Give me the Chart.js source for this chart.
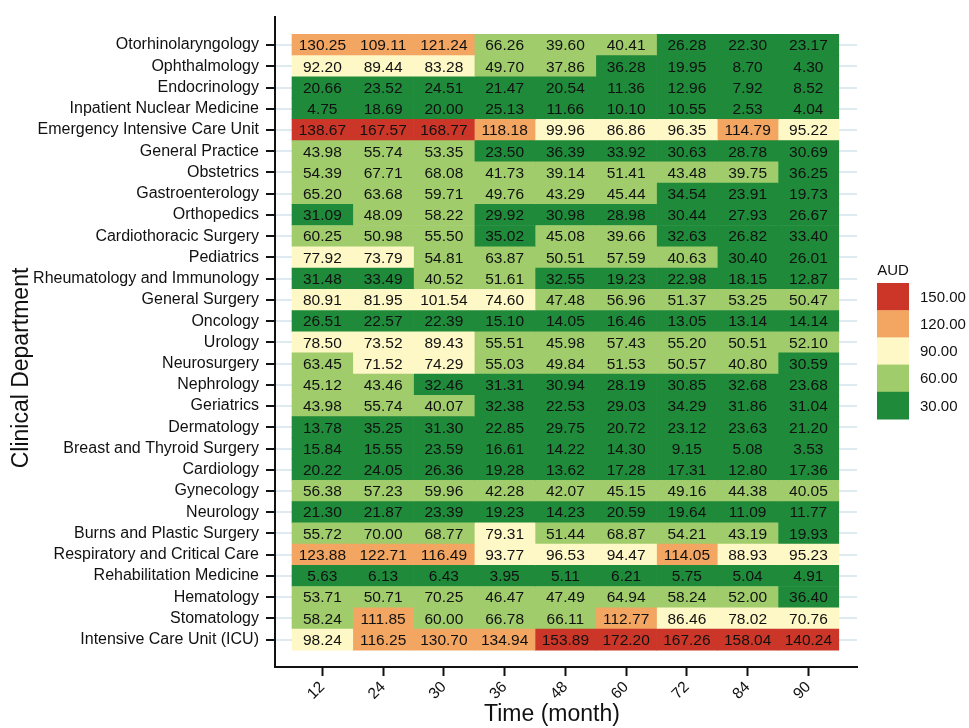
<!DOCTYPE html>
<html>
<head>
<meta charset="utf-8">
<script src="https://cdn.jsdelivr.net/npm/chart.js@4.4.1/dist/chart.umd.min.js"></script>
<style>
  html, body { margin: 0; padding: 0; background: #fff; }
  #wrap { width: 969px; height: 728px; }
</style>
</head>
<body>
<div id="wrap"><canvas id="myChart"></canvas></div>
<script>
const departments = [
  'Otorhinolaryngology', 'Ophthalmology', 'Endocrinology', 'Inpatient Nuclear Medicine',
  'Emergency Intensive Care Unit', 'General Practice', 'Obstetrics', 'Gastroenterology',
  'Orthopedics', 'Cardiothoracic Surgery', 'Pediatrics', 'Rheumatology and Immunology',
  'General Surgery', 'Oncology', 'Urology', 'Neurosurgery', 'Nephrology', 'Geriatrics',
  'Dermatology', 'Breast and Thyroid Surgery', 'Cardiology', 'Gynecology', 'Neurology',
  'Burns and Plastic Surgery', 'Respiratory and Critical Care', 'Rehabilitation Medicine',
  'Hematology', 'Stomatology', 'Intensive Care Unit (ICU)'
]
const months = ['12', '24', '30', '36', '48', '60', '72', '84', '90']

// one array per month, in department order
const m12 = [130.25, 92.20, 20.66, 4.75, 138.67, 43.98, 54.39, 65.20, 31.09, 60.25, 77.92, 31.48, 80.91, 26.51, 78.50, 63.45, 45.12, 43.98, 13.78, 15.84, 20.22, 56.38, 21.30, 55.72, 123.88, 5.63, 53.71, 58.24, 98.24]
const m24 = [109.11, 89.44, 23.52, 18.69, 167.57, 55.74, 67.71, 63.68, 48.09, 50.98, 73.79, 33.49, 81.95, 22.57, 73.52, 71.52, 43.46, 55.74, 35.25, 15.55, 24.05, 57.23, 21.87, 70.00, 122.71, 6.13, 50.71, 111.85, 116.25]
const m30 = [121.24, 83.28, 24.51, 20.00, 168.77, 53.35, 68.08, 59.71, 58.22, 55.50, 54.81, 40.52, 101.54, 22.39, 89.43, 74.29, 32.46, 40.07, 31.30, 23.59, 26.36, 59.96, 23.39, 68.77, 116.49, 6.43, 70.25, 60.00, 130.70]
const m36 = [66.26, 49.70, 21.47, 25.13, 118.18, 23.50, 41.73, 49.76, 29.92, 35.02, 63.87, 51.61, 74.60, 15.10, 55.51, 55.03, 31.31, 32.38, 22.85, 16.61, 19.28, 42.28, 19.23, 79.31, 93.77, 3.95, 46.47, 66.78, 134.94]
const m48 = [39.60, 37.86, 20.54, 11.66, 99.96, 36.39, 39.14, 43.29, 30.98, 45.08, 50.51, 32.55, 47.48, 14.05, 45.98, 49.84, 30.94, 22.53, 29.75, 14.22, 13.62, 42.07, 14.23, 51.44, 96.53, 5.11, 47.49, 66.11, 153.89]
const m60 = [40.41, 36.28, 11.36, 10.10, 86.86, 33.92, 51.41, 45.44, 28.98, 39.66, 57.59, 19.23, 56.96, 16.46, 57.43, 51.53, 28.19, 29.03, 20.72, 14.30, 17.28, 45.15, 20.59, 68.87, 94.47, 6.21, 64.94, 112.77, 172.20]
const m72 = [26.28, 19.95, 12.96, 10.55, 96.35, 30.63, 43.48, 34.54, 30.44, 32.63, 40.63, 22.98, 51.37, 13.05, 55.20, 50.57, 30.85, 34.29, 23.12, 9.15, 17.31, 49.16, 19.64, 54.21, 114.05, 5.75, 58.24, 86.46, 167.26]
const m84 = [22.30, 8.70, 7.92, 2.53, 114.79, 28.78, 39.75, 23.91, 27.93, 26.82, 30.40, 18.15, 53.25, 13.14, 50.51, 40.80, 32.68, 31.86, 23.63, 5.08, 12.80, 44.38, 11.09, 43.19, 88.93, 5.04, 52.00, 78.02, 158.04]
const m90 = [23.17, 4.30, 8.52, 4.04, 95.22, 30.69, 36.25, 19.73, 26.67, 33.40, 26.01, 12.87, 50.47, 14.14, 52.10, 30.59, 23.68, 31.04, 21.20, 3.53, 17.36, 40.05, 11.77, 19.93, 95.23, 4.91, 36.40, 70.76, 140.24]
const columns = [m12, m24, m30, m36, m48, m60, m72, m84, m90]

const legendTicks = ['150.00', '120.00', '90.00', '60.00', '30.00']
// low -> high
const binColors = ['#1e8a3a', '#a0cc6c', '#fef7c6', '#f3a562', '#cc3628']

const allVals = columns.flat()
const vMin = Math.min(...allVals)
const vMax = Math.max(...allVals)

function colorFor(v) {
    let k = Math.floor((v - vMin) / (vMax - vMin) * 5)
    if (k > 4) k = 4
    return binColors[k]
}

const FONT = '"Liberation Sans", Arial, sans-serif'
Chart.defaults.font.family = FONT
Chart.defaults.color = '#111'

const datasets = columns.map((col, j) => ({
    label: months[j],
    data: col.map((v, i) => ({ x: [j - 0.5, j + 0.5], y: i, v: v })),
    backgroundColor: col.map(colorFor),
    borderWidth: 0,
    barPercentage: 1,
    categoryPercentage: 1,
    grouped: false
}))

const cellLabels = {
    id: 'cellLabels',
    afterDatasetsDraw(chart) {
        const ctx = chart.ctx
        ctx.save()
        ctx.font = '15.5px ' + FONT
        ctx.fillStyle = '#111'
        ctx.textAlign = 'center'
        ctx.textBaseline = 'middle'
        chart.data.datasets.forEach((ds, j) => {
            chart.getDatasetMeta(j).data.forEach((bar, i) => {
                const p = bar.getCenterPoint()
                ctx.fillText(ds.data[i].v.toFixed(2), p.x, p.y + 1)
            })
        })
        ctx.restore()
    }
}

// axis titles and the binned colour key
const annotations = {
    id: 'annotations',
    afterDraw(chart) {
        const ctx = chart.ctx
        ctx.save()
        ctx.fillStyle = '#111'
        ctx.textAlign = 'center'
        ctx.textBaseline = 'middle'
        ctx.font = '23px ' + FONT
        ctx.fillText('Time (month)', 552, 715)
        ctx.save()
        ctx.translate(22, 368)
        ctx.rotate(-Math.PI / 2)
        ctx.fillText('Clinical Department', 0, 0)
        ctx.restore()

        const x = 877, top = 283, w = 32, h = 27.2
        ctx.font = '15px ' + FONT
        ctx.fillText('AUD', x + w / 2, 271)
        ctx.textAlign = 'left'
        legendTicks.forEach((t, k) => {
            ctx.fillStyle = binColors[4 - k]
            ctx.fillRect(x, top + k * h, w, h + 0.5)
            ctx.fillStyle = '#111'
            ctx.fillText(t, 920, top + k * h + h / 2 + 1)
        })
        ctx.restore()
    }
}

const config = {
    type: 'bar',
    data: { datasets: datasets },
    plugins: [cellLabels, annotations],
    options: {
        indexAxis: 'y',
        responsive: true,
        maintainAspectRatio: false,
        animation: false,
        events: [],
        layout: { padding: { top: 10, right: 112, left: 0, bottom: 0 } },
        plugins: { legend: { display: false }, tooltip: { enabled: false } },
        scales: {
            x: {
                type: 'linear',
                min: -0.78,
                max: 8.8,
                offset: false,
                afterBuildTicks: (scale) => { scale.ticks = months.map((m, j) => ({ value: j })) },
                afterFit: (scale) => { scale.height = 61 },
                ticks: {
                    autoSkip: false,
                    minRotation: 45,
                    maxRotation: 45,
                    padding: 2,
                    font: { size: 15.5 },
                    color: '#111',
                    callback: (value) => months[Math.round(value)]
                },
                grid: { offset: false, drawOnChartArea: false, tickLength: 9, tickColor: '#111', tickWidth: 2 },
                border: { color: '#111', width: 2 }
            },
            y: {
                type: 'linear',
                reverse: true,
                min: -1.34,
                max: 29.29,
                offset: false,
                afterBuildTicks: (scale) => { scale.ticks = departments.map((d, i) => ({ value: i })) },
                afterFit: (scale) => { scale.width = 275 },
                ticks: {
                    autoSkip: false,
                    padding: 7,
                    font: { size: 16 },
                    color: '#111',
                    callback: (value) => departments[Math.round(value)]
                },
                grid: { offset: false, color: '#dfeaf0', lineWidth: 2, tickLength: 9, tickColor: '#111', tickWidth: 2 },
                border: { color: '#111', width: 2 }
            }
        }
    }
}

const myChart = new Chart(document.getElementById('myChart'), config)
</script>
</body>
</html>
